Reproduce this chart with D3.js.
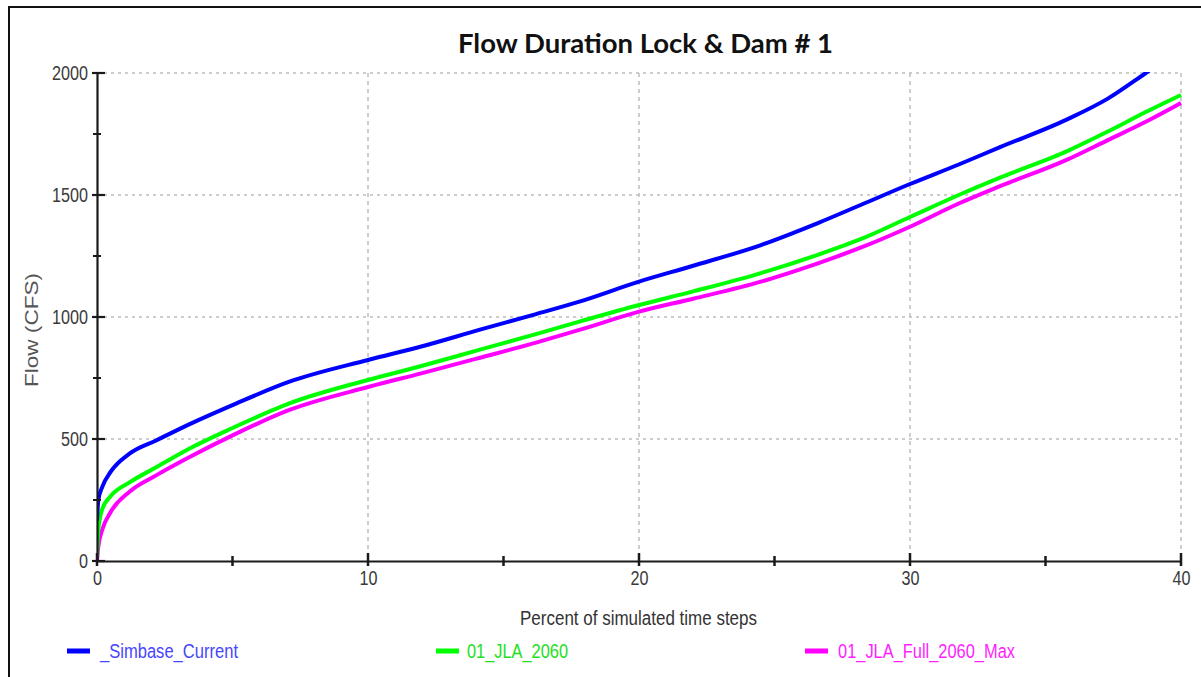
<!DOCTYPE html>
<html>
<head>
<meta charset="utf-8">
<script src="https://cdn.jsdelivr.net/npm/d3@7"></script>
<style>
  body { margin: 0; background: #fff; }
  svg { display: block; }
  .tick text { font-family: "Liberation Sans", Arial, sans-serif; }
</style>
</head>
<body>
<div id="chart"></div>
<script>
// flow duration curves
var pct = [0, 0.05, 0.2, 0.5, 1.2, 2.2, 3.4, 5, 7.1, 10, 12, 14.1, 16.2, 17.8, 20, 22, 24.5, 26.6, 28.2, 30, 31.8, 33.3, 35.8, 37.3, 38.7, 40];

var simbaseCurrent = [165, 250, 305, 365, 440, 495, 560, 639, 735, 824, 880, 947, 1012, 1063, 1145, 1210, 1295, 1385, 1460, 1545, 1625, 1695, 1810, 1895, 2000, 2100];
var jla2060 = [20, 130, 215, 265, 322, 385, 460, 545, 646, 742, 800, 865, 930, 981, 1049, 1105, 1180, 1255, 1320, 1410, 1500, 1570, 1680, 1760, 1840, 1910];
var jlaFull2060Max = [0, 60, 130, 200, 284, 352, 425, 515, 619, 713, 770, 832, 895, 947, 1022, 1075, 1145, 1220, 1285, 1370, 1465, 1535, 1645, 1725, 1800, 1877];

var seriesNames = ["_Simbase_Current", "01_JLA_2060", "01_JLA_Full_2060_Max"];
var seriesColors = ["#0000ff", "#00ff00", "#ff00ff"];
var legendTextColors = ["#4646ff", "#1ee01e", "#ff1eff"];

var xMajor = [0, 10, 20, 30, 40];
var xMinor = [5, 15, 25, 35];
var yMajor = [0, 500, 1000, 1500, 2000];
var yMinor = [250, 750, 1250, 1750];

var svgWidth = 1201;
var svgHeight = 677;

var margin = { top: 73, right: 20, bottom: 116, left: 97 };
var width = 1181 - margin.left;
var height = 561 - margin.top;

var condensed = "'Liberation Sans', Arial, sans-serif";

var svg = d3.select("#chart")
    .append("svg")
    .attr("width", svgWidth)
    .attr("height", svgHeight);

// outer frame (top and left edges visible)
svg.append("path")
    .attr("d", "M9,677 V7 H1201")
    .attr("fill", "none")
    .attr("stroke", "#111")
    .attr("stroke-width", 2);

svg.append("text")
    .attr("x", 458)
    .attr("y", 53)
    .style("font-family", "Lato, 'Open Sans', sans-serif")
    .style("font-weight", "bold")
    .style("font-size", "27px")
    .attr("textLength", 375)
    .attr("lengthAdjust", "spacingAndGlyphs")
    .attr("fill", "#111")
    .text("Flow Duration Lock & Dam # 1");

var chartGroup = svg.append("g")
    .attr("transform", `translate(${margin.left}, ${margin.top})`);

var xScale = d3.scaleLinear().domain([0, 40]).range([0, width]);
var yScale = d3.scaleLinear().domain([0, 2000]).range([height, 0]);

// grid
chartGroup.append("g")
    .selectAll("line")
    .data(yMajor.slice(1))
    .enter()
    .append("line")
    .attr("x1", 0)
    .attr("x2", width)
    .attr("y1", d => yScale(d))
    .attr("y2", d => yScale(d))
    .attr("stroke", "#bdbdbd")
    .attr("stroke-width", 1.5)
    .attr("stroke-dasharray", "3,4");

chartGroup.append("g")
    .selectAll("line")
    .data(xMajor.slice(1))
    .enter()
    .append("line")
    .attr("x1", d => xScale(d))
    .attr("x2", d => xScale(d))
    .attr("y1", 0)
    .attr("y2", height)
    .attr("stroke", "#bdbdbd")
    .attr("stroke-width", 1.5)
    .attr("stroke-dasharray", "4,4");

// lines
var clip = svg.append("defs").append("clipPath").attr("id", "plotClip");
clip.append("rect").attr("x", 0).attr("y", -1).attr("width", width + 2).attr("height", height + 2);

var line = d3.line()
    .x((d, i) => xScale(pct[i]))
    .y(d => yScale(d))
    .curve(d3.curveMonotoneX);

var allSeries = [simbaseCurrent, jla2060, jlaFull2060Max];

chartGroup.append("g")
    .attr("clip-path", "url(#plotClip)")
    .selectAll("path")
    .data(allSeries.slice().reverse())
    .enter()
    .append("path")
    .attr("d", d => line(d))
    .attr("fill", "none")
    .attr("stroke", (d, i) => seriesColors[2 - i])
    .attr("stroke-width", 4)
    .attr("stroke-linejoin", "round");

// axes
var bottomAxis = d3.axisBottom(xScale)
    .tickValues(xMajor)
    .tickSize(0)
    .tickPadding(10)
    .tickFormat(d3.format("d"));

var leftAxis = d3.axisLeft(yScale)
    .tickValues(yMajor)
    .tickSize(0)
    .tickPadding(9)
    .tickFormat(d3.format("d"));

var xAxis = chartGroup.append("g")
    .attr("transform", `translate(0, ${height})`)
    .call(bottomAxis);

var yAxis = chartGroup.append("g")
    .call(leftAxis);

[xAxis, yAxis].forEach(function(ax) {
    ax.select(".domain").attr("stroke", "#1a1a1a").attr("stroke-width", 2.2);
    ax.selectAll(".tick text")
        .style("font-size", "20px")
        .attr("fill", "#3a3a3a")
        .attr("textLength", d => String(d).length * 9)
        .attr("lengthAdjust", "spacingAndGlyphs");
});

// custom crossing ticks
chartGroup.append("g")
    .selectAll("line")
    .data(xMajor)
    .enter()
    .append("line")
    .attr("x1", d => xScale(d))
    .attr("x2", d => xScale(d))
    .attr("y1", height - 8)
    .attr("y2", height + 5)
    .attr("stroke", "#1a1a1a")
    .attr("stroke-width", 2.5);

chartGroup.append("g")
    .selectAll("line")
    .data(xMinor)
    .enter()
    .append("line")
    .attr("x1", d => xScale(d))
    .attr("x2", d => xScale(d))
    .attr("y1", height - 5)
    .attr("y2", height + 5)
    .attr("stroke", "#1a1a1a")
    .attr("stroke-width", 2.5);

chartGroup.append("g")
    .selectAll("line")
    .data(yMajor)
    .enter()
    .append("line")
    .attr("x1", -5)
    .attr("x2", 8)
    .attr("y1", d => yScale(d))
    .attr("y2", d => yScale(d))
    .attr("stroke", "#1a1a1a")
    .attr("stroke-width", 2.2);

chartGroup.append("g")
    .selectAll("line")
    .data(yMinor)
    .enter()
    .append("line")
    .attr("x1", -4)
    .attr("x2", 4)
    .attr("y1", d => yScale(d))
    .attr("y2", d => yScale(d))
    .attr("stroke", "#1a1a1a")
    .attr("stroke-width", 2);

// axis labels
svg.append("text")
    .attr("x", 520)
    .attr("y", 625)
    .style("font-family", condensed)
    .style("font-size", "20px")
    .attr("textLength", 237)
    .attr("lengthAdjust", "spacingAndGlyphs")
    .attr("fill", "#333")
    .text("Percent of simulated time steps");

svg.append("text")
    .attr("transform", "translate(38, 387) rotate(-90)")
    .style("font-family", condensed)
    .style("font-size", "18px")
    .attr("textLength", 114)
    .attr("lengthAdjust", "spacingAndGlyphs")
    .attr("fill", "#555")
    .text("Flow (CFS)");

// legend
var legendX = [67, 436, 805];
var legendTextX = [100, 467, 838];
var legendTextW = [138, 101, 177];
var legend = svg.append("g");
seriesNames.forEach(function(name, i) {
    legend.append("line")
        .attr("x1", legendX[i])
        .attr("x2", legendX[i] + 23)
        .attr("y1", 651)
        .attr("y2", 651)
        .attr("stroke", seriesColors[i])
        .attr("stroke-width", 5);
    legend.append("text")
        .attr("x", legendTextX[i])
        .attr("y", 658)
        .style("font-family", condensed)
        .style("font-size", "20px")
        .attr("textLength", legendTextW[i])
        .attr("lengthAdjust", "spacingAndGlyphs")
        .attr("fill", legendTextColors[i])
        .text(name);
});
</script>
</body>
</html>
